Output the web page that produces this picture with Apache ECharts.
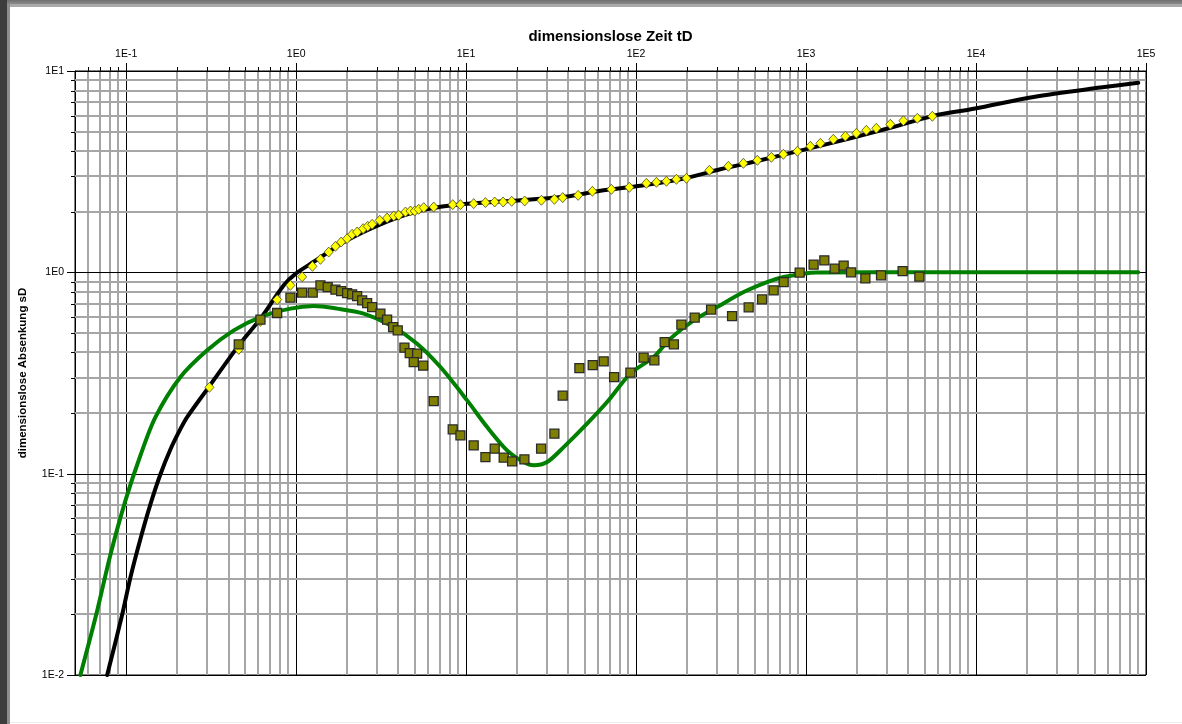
<!DOCTYPE html>
<html>
<head>
<meta charset="utf-8">
<title>dimensionslose Zeit tD</title>
<script src="https://cdn.jsdelivr.net/npm/echarts@6/dist/echarts.min.js"></script>
<style>
  html, body { margin: 0; padding: 0; background: #ffffff; }
  #chart { position: absolute; left: 0; top: 0; width: 1182px; height: 724px; }
  .frame { position: absolute; }
</style>
</head>
<body>
<div id="chart"></div>
<!-- window frame around the plot page -->
<div class="frame" style="left:0;top:0;width:1182px;height:4px;background:linear-gradient(#6e6e6e,#8a8a8a);"></div>
<div class="frame" style="left:7px;top:4px;width:1175px;height:3px;background:#a9a9a9;"></div>
<div class="frame" style="left:0;top:0;width:7px;height:724px;background:#3d3d3d;"></div>
<div class="frame" style="left:7px;top:4px;width:3px;height:720px;background:#8e8e8e;"></div>
<div class="frame" style="left:10px;top:722px;width:1172px;height:1px;background:#ececec;"></div>
<script>
// axis ranges (log-log) and decade labels
const tRange = [0.05, 100000];
const sRange = [0.01, 10];
const tDecades = [0.1, 1, 10, 100, 1000, 10000, 100000];
const sDecades = [0.01, 0.1, 1, 10];

// type curve sD(tD) (black)
const typeCurve = [
  [0.0773, 0.0100], [0.0947, 0.0199], [0.1060, 0.0306], [0.1214, 0.0475],
  [0.1390, 0.0706], [0.1591, 0.0994], [0.1823, 0.1323], [0.2086, 0.1668],
  [0.2284, 0.1910], [0.3061, 0.2693], [0.4596, 0.4339], [0.6166, 0.5888],
  [0.8456, 0.8619], [0.9906, 0.983], [1.269, 1.128], [1.995, 1.442],
  [3.132, 1.732], [4.918, 1.987], [7.062, 2.115], [10.14, 2.190],
  [19.05, 2.266], [37.51, 2.372], [61.66, 2.540], [100.4, 2.674],
  [182.3, 2.897], [313.2, 3.249], [538.4, 3.601], [990.6, 4.083],
  [1822, 4.632], [3132, 5.223], [5630, 5.989], [9865, 6.506],
  [21820, 7.428], [53850, 8.272], [90000, 8.738]
];

// log-derivative of the type curve (green)
const derivCurve = [
  [0.0538, 0.0100], [0.0666, 0.0199], [0.0808, 0.0396], [0.0991, 0.0737],
  [0.1214, 0.1234], [0.1487, 0.1910], [0.2086, 0.3019], [0.2996, 0.4099],
  [0.4296, 0.5150], [0.6166, 0.5997], [0.9257, 0.6603], [1.269, 0.6803],
  [1.742, 0.6603], [2.498, 0.6235], [3.586, 0.5453], [5.149, 0.4422],
  [7.062, 0.3385], [10.14, 0.2312], [13.29, 0.1704], [17.42, 0.1305],
  [21.82, 0.1142], [24.98, 0.1100], [29.96, 0.1142], [37.51, 0.1355],
  [51.5, 0.1772], [67.5, 0.2268], [92.6, 0.3139], [126.9, 0.3796],
  [159.2, 0.4685], [218.2, 0.5775], [299.6, 0.6724], [429.5, 0.7982],
  [589.8, 0.8949], [738.3, 0.9477], [968, 0.985], [1161, 0.997],
  [2390, 1.0], [90000, 1.0]
];

// measured dimensionless drawdown (yellow diamonds)
const drawdownPoints = [
  [0.309, 0.2684], [0.4596, 0.4145], [0.6166, 0.5707], [0.7731, 0.7318],
  [0.9257, 0.8619], [1.085, 0.950], [1.247, 1.071], [1.390, 1.160],
  [1.555, 1.261], [1.703, 1.346], [1.840, 1.414], [1.995, 1.470],
  [2.135, 1.545], [2.285, 1.586], [2.478, 1.648], [2.638, 1.692],
  [2.800, 1.732], [3.103, 1.813], [3.430, 1.861], [3.752, 1.905],
  [4.013, 1.920], [4.395, 1.993], [4.703, 2.016], [4.985, 2.016],
  [5.263, 2.056], [5.633, 2.096], [6.448, 2.110], [8.341, 2.169],
  [9.259, 2.169], [11.08, 2.194], [12.99, 2.220], [14.73, 2.235],
  [16.51, 2.235], [18.54, 2.253], [22.12, 2.261], [27.73, 2.279],
  [33.07, 2.305], [37.00, 2.350], [45.60, 2.412], [55.35, 2.526],
  [71.56, 2.584], [91.3, 2.644], [115.0, 2.768], [131.7, 2.800],
  [150.8, 2.833], [172.6, 2.897], [197.7, 2.931], [269.9, 3.212],
  [349.1, 3.362], [427.8, 3.479], [517.0, 3.601], [625.2, 3.727],
  [735.4, 3.857], [888.8, 3.992], [1060, 4.227], [1214, 4.374],
  [1447, 4.579], [1703, 4.739], [1977, 4.904], [2263, 5.076],
  [2591, 5.193], [3132, 5.437], [3736, 5.660], [4516, 5.821],
  [5534, 5.957]
];

// measured log-derivative (olive squares)
const derivPoints = [
  [0.4596, 0.4387], [0.6166, 0.582], [0.7731, 0.6281], [0.9257, 0.7485],
  [1.085, 0.7928], [1.252, 0.7928], [1.390, 0.8619], [1.534, 0.8453],
  [1.703, 0.8206], [1.840, 0.8074], [1.995, 0.7891], [2.135, 0.7774],
  [2.285, 0.7625], [2.445, 0.7258], [2.616, 0.7038], [2.800, 0.6724],
  [3.132, 0.6235], [3.430, 0.582], [3.720, 0.5349], [3.960, 0.515],
  [4.336, 0.4225], [4.659, 0.3972], [5.149, 0.3945], [4.918, 0.3584],
  [5.587, 0.3440], [6.448, 0.2294], [8.341, 0.166], [9.259, 0.155],
  [11.08, 0.1382], [12.99, 0.1209], [14.73, 0.1331], [16.64, 0.1201],
  [18.65, 0.1151], [22.03, 0.1178], [27.62, 0.1331], [33.07, 0.158],
  [37.00, 0.2441], [46.39, 0.3346], [55.58, 0.3464], [64.49, 0.3613],
  [74.25, 0.3019], [92.6, 0.3175], [110.8, 0.3770], [128.1, 0.3655],
  [147.3, 0.4504], [166.9, 0.4387], [184.7, 0.5497], [221.2, 0.5957],
  [276.2, 0.6528], [367.0, 0.6066], [459.6, 0.6701], [551.0, 0.7342],
  [644.7, 0.8139], [738.3, 0.8949], [917.1, 0.9966], [1108, 1.092],
  [1281, 1.147], [1473, 1.043], [1664, 1.080], [1839, 1.0],
  [2233, 0.9337], [2762, 0.9663], [3700, 1.015], [4640, 0.9520]
];

// grid lines: every integer multiple inside each decade, decades marked as major
const gridMultipliers = [1, 2, 3, 4, 5, 6, 7, 8, 9];
function gridValues(range) {
  const out = [];
  const k0 = Math.floor(Math.log10(range[0]));
  const k1 = Math.ceil(Math.log10(range[1]));
  for (let k = k0; k <= k1; k++) {
    for (const m of gridMultipliers) {
      const v = Number((m * Math.pow(10, k)).toPrecision(6));
      if (v > range[0] * 1.0001 && v <= range[1] * 1.0001) out.push([v, m === 1 ? 1 : 0]);
    }
  }
  return out;
}
const tGrid = gridValues(tRange).map(d => [d[0], 1, d[1]]);
const sGrid = gridValues([sRange[0] * 0.999, sRange[1]]).map(d => [1, d[0], d[1]]);

const MINOR_COLOR = '#a6a6a6';
const expLabel = v => '1E' + Math.round(Math.log10(v));

const chart = echarts.init(document.getElementById('chart'), null, { renderer: 'canvas' });

chart.setOption({
  animation: false,
  backgroundColor: 'transparent',
  grid: {
    left: 75, top: 71, width: 1071, height: 604,
    show: true, borderColor: '#000', borderWidth: 1, backgroundColor: 'transparent'
  },
  xAxis: {
    type: 'log', logBase: 10, position: 'top',
    min: tRange[0], max: tRange[1],
    name: 'dimensionslose Zeit tD', nameLocation: 'middle', nameGap: 27,
    nameTextStyle: { fontFamily: 'Liberation Sans', fontWeight: 'bold', fontSize: 15, color: '#000' },
    axisLine: { show: true, lineStyle: { color: '#000', width: 1 } },
    axisTick: { show: false },
    splitLine: { show: false },
    axisLabel: {
      showMinLabel: false, margin: 11, formatter: expLabel,
      fontFamily: 'Liberation Sans', fontSize: 10.5, color: '#000'
    }
  },
  yAxis: {
    type: 'log', logBase: 10,
    min: sRange[0], max: sRange[1],
    name: 'dimensionslose Absenkung sD', nameLocation: 'middle', nameGap: 46, nameRotate: 90,
    nameTextStyle: { fontFamily: 'Liberation Sans', fontWeight: 'bold', fontSize: 11.5, color: '#000' },
    axisLine: { show: true, lineStyle: { color: '#000', width: 1 } },
    axisTick: { show: false },
    splitLine: { show: false },
    axisLabel: {
      margin: 11, formatter: expLabel,
      fontFamily: 'Liberation Sans', fontSize: 10.5, color: '#000'
    }
  },
  series: [
    {
      // vertical grid lines with ticks above the top axis
      type: 'custom', name: 'tGrid', silent: true, z: 1, clip: false,
      data: tGrid,
      renderItem: (params, api) => {
        const v = api.value(0);
        const major = api.value(2) === 1;
        const top = api.coord([v, sRange[1]]);
        const bot = api.coord([v, sRange[0]]);
        const x = major ? Math.round(top[0]) + 0.5 : Math.round(top[0]);
        const xt = Math.round(top[0]) + 0.5;
        return {
          type: 'group',
          children: [
            { type: 'line', shape: { x1: x, y1: top[1], x2: x, y2: bot[1] },
              style: { stroke: major ? '#000' : MINOR_COLOR, lineWidth: major ? 1 : 2 } },
            { type: 'line', shape: { x1: xt, y1: top[1] - (major ? 8 : 4), x2: xt, y2: top[1] },
              style: { stroke: '#000', lineWidth: 1 } }
          ]
        };
      }
    },
    {
      // horizontal grid lines with ticks left of the value axis
      type: 'custom', name: 'sGrid', silent: true, z: 1, clip: false,
      data: sGrid,
      renderItem: (params, api) => {
        const v = api.value(1);
        const major = api.value(2) === 1;
        const l = api.coord([tRange[0], v]);
        const r = api.coord([tRange[1], v]);
        const y = major ? Math.round(l[1]) + 0.5 : Math.round(l[1]);
        const yt = Math.round(l[1]) + 0.5;
        return {
          type: 'group',
          children: [
            { type: 'line', shape: { x1: l[0], y1: y, x2: r[0], y2: y },
              style: { stroke: major ? '#000' : MINOR_COLOR, lineWidth: major ? 1 : 2 } },
            { type: 'line', shape: { x1: l[0] - (major ? 8 : 4), y1: yt, x2: l[0], y2: yt },
              style: { stroke: '#000', lineWidth: 1 } }
          ]
        };
      }
    },
    {
      name: 'Typkurve sD', type: 'line', data: typeCurve, z: 3,
      showSymbol: false, smooth: 0.3, silent: true,
      lineStyle: { color: '#000000', width: 4, join: 'round', cap: 'round' }
    },
    {
      name: 'Ableitung Typkurve', type: 'line', data: derivCurve, z: 3,
      showSymbol: false, smooth: 0.3, silent: true,
      lineStyle: { color: '#008000', width: 4, join: 'round', cap: 'round' }
    },
    {
      name: 'Messwerte sD', type: 'scatter', data: drawdownPoints, z: 4,
      symbol: 'diamond', symbolSize: [9, 10], silent: true,
      itemStyle: { color: '#ffff00', borderColor: '#4a4a20', borderWidth: 0.8, opacity: 1 }
    },
    {
      name: 'Messwerte Ableitung', type: 'scatter', data: derivPoints, z: 5,
      symbol: 'rect', symbolSize: 9, silent: true,
      itemStyle: { color: '#808000', borderColor: '#2a2a2a', borderWidth: 1.3, opacity: 1 }
    }
  ]
});
</script>
</body>
</html>
